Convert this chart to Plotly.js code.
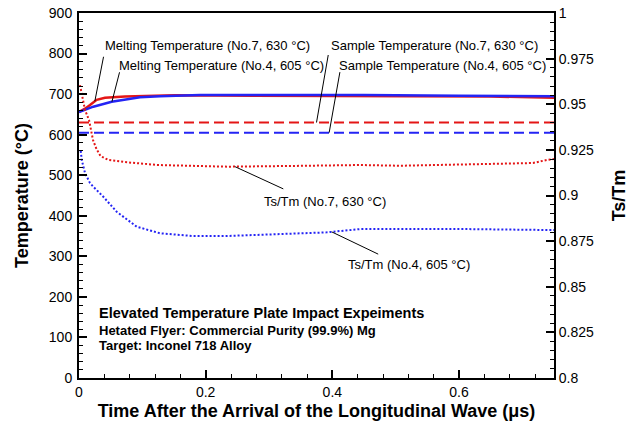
<!DOCTYPE html>
<html>
<head>
<meta charset="utf-8">
<script src="https://cdn.plot.ly/plotly-3.0.1.min.js"></script>
<style>
  html, body { margin: 0; padding: 0; background: #fff; }
  #chart { width: 635px; height: 425px; }
</style>
</head>
<body>
<div id="chart"></div>
<script>
// Time after the arrival of the longitudinal wave (µs) and temperatures (°C)
const tMeltNo7 = [0, 0.0095, 0.0174, 0.0279, 0.041, 0.0726, 0.1516, 0.3, 0.5, 0.65, 0.75];
const meltNo7  = [656, 664, 673, 686, 691, 694, 697, 696, 696, 694, 691];

const tMeltNo4 = [0, 0.0095, 0.0226, 0.0516, 0.0963, 0.128, 0.191, 0.3, 0.45, 0.6, 0.75];
const meltNo4  = [656, 662, 669, 681, 692, 695, 698, 698, 698, 696, 695];

const tSample   = [0, 0.75];
const sampleNo7 = [630, 630];
const sampleNo4 = [605, 605];

// Ts/Tm ratio histories (right axis)
const tRatioNo7 = [0.0016, 0.0095, 0.0158, 0.0221, 0.0276, 0.034, 0.0463, 0.0726, 0.1247,
                   0.2337, 0.3379, 0.4437, 0.5068, 0.6647, 0.7168, 0.7389, 0.75];
const ratioNo7  = [0.9605, 0.9468, 0.9414, 0.9304, 0.9255, 0.9216, 0.9195, 0.9183, 0.9167,
                   0.9158, 0.9162, 0.9167, 0.9163, 0.9173, 0.9178, 0.9195, 0.9200];

const tRatioNo4 = [0.0027, 0.0043, 0.0095, 0.0174, 0.0226, 0.0384, 0.0595, 0.0911, 0.1279,
                   0.1805, 0.2332, 0.2858, 0.3379, 0.3911, 0.4437, 0.5068, 0.6122, 0.7385, 0.75];
const ratioNo4  = [0.9245, 0.9195, 0.9123, 0.9068, 0.9048, 0.8993, 0.8911, 0.8829, 0.8793,
                   0.8778, 0.8778, 0.8784, 0.8793, 0.8798, 0.8816, 0.8816, 0.8816, 0.8811, 0.8811];

const RED = 'rgb(228,22,22)';
const BLUE = 'rgb(36,36,244)';
const FONT = 'Liberation Sans, Arial, Helvetica, sans-serif';

function interp(xs, ys, t) {
  for (let i = 1; i < xs.length; i++) {
    if (t <= xs[i]) {
      const f = (t - xs[i - 1]) / (xs[i] - xs[i - 1]);
      return ys[i - 1] + f * (ys[i] - ys[i - 1]);
    }
  }
  return ys[ys.length - 1];
}

const traces = [
  { x: tMeltNo7, y: meltNo7, mode: 'lines', line: { color: RED, width: 2.5 } },
  { x: tMeltNo4, y: meltNo4, mode: 'lines', line: { color: BLUE, width: 2.5 } },
  { x: tSample, y: sampleNo7, mode: 'lines', line: { color: RED, width: 2, dash: '10px,5px' } },
  { x: tSample, y: sampleNo4, mode: 'lines', line: { color: BLUE, width: 2, dash: '10px,5px' } },
  { x: tRatioNo7, y: ratioNo7, yaxis: 'y2', mode: 'lines', line: { color: RED, width: 2, dash: '2px,2px' } },
  { x: tRatioNo4, y: ratioNo4, yaxis: 'y2', mode: 'lines', line: { color: BLUE, width: 2, dash: '2px,2px' } }
];

// Callout labels and their leader lines
function label(text, px, py, size) {
  return { xref: 'paper', yref: 'paper', x: px, y: py, xanchor: 'left', yanchor: 'middle',
           showarrow: false, text: text, font: { family: FONT, size: size || 13, color: '#000' } };
}
function leader(t, v, yref, ax, ay) {
  return { xref: 'x', yref: yref, x: t, y: v, text: '', showarrow: true, arrowhead: 0,
           arrowwidth: 1, arrowcolor: '#000', ax: ax, ay: ay, standoff: 0 };
}

const annotations = [
  label('Melting Temperature (No.7, 630 °C)', 0.0505, 0.9096),
  label('Melting Temperature (No.4, 605 °C)', 0.080, 0.8575),
  label('Sample Temperature (No.7, 630 °C)', 0.5263, 0.9096),
  label('Sample Temperature (No.4, 605 °C)', 0.5425, 0.8575),
  label('Ts/Tm (No.7, 630 °C)', 0.3853, 0.4849),
  label('Ts/Tm (No.4, 605 °C)', 0.5621, 0.3096),
  leader(0.025, interp(tMeltNo7, meltNo7, 0.025), 'y', 9, -46),
  leader(0.052, interp(tMeltNo4, meltNo4, 0.052), 'y', 8, -31),
  leader(0.375, interp(tSample, sampleNo7, 0.375), 'y', 12, -69),
  leader(0.395, interp(tSample, sampleNo4, 0.395), 'y', 11, -62),
  leader(0.246, interp(tRatioNo7, ratioNo7, 0.246), 'y2', 50, 23),
  leader(0.399, interp(tRatioNo4, ratioNo4, 0.399), 'y2', 48, 23),
  label('<b>Elevated Temperature Plate Impact Expeiments</b>', 0.0373, 0.178, 14.5),
  label('<b>Hetated Flyer: Commercial Purity (99.9%) Mg</b>', 0.0373, 0.1315, 13),
  label('<b>Target: Inconel 718 Alloy</b>', 0.0373, 0.0885, 13)
];

const axisCommon = {
  showgrid: false, zeroline: false, showline: true, linecolor: '#000', linewidth: 2,
  ticks: 'inside', ticklen: 8, tickwidth: 2, tickcolor: '#000',
  tickfont: { family: FONT, size: 14, color: '#000' }
};

const layout = {
  width: 635, height: 425,
  margin: { l: 79, r: 81, t: 13, b: 47 },
  paper_bgcolor: '#fff', plot_bgcolor: '#fff',
  showlegend: false,
  font: { family: FONT, color: '#000' },
  xaxis: Object.assign({}, axisCommon, {
    range: [0, 0.75], tick0: 0, dtick: 0.2, mirror: true,
    minor: { dtick: 0.04, ticks: 'inside', ticklen: 4, tickwidth: 1, tickcolor: '#000' },
    title: { text: '<b>Time After the Arrival of the Longitudinal Wave (μs)</b>',
             font: { family: FONT, size: 18 }, standoff: 6 }
  }),
  yaxis: Object.assign({}, axisCommon, {
    range: [0, 900], tick0: 0, dtick: 100, ticklabelstandoff: 2,
    minor: { dtick: 20, ticks: 'inside', ticklen: 4, tickwidth: 1, tickcolor: '#000' },
    title: { text: '<b>Temperature (°C)</b>', font: { family: FONT, size: 18 }, standoff: 16 }
  }),
  yaxis2: Object.assign({}, axisCommon, {
    overlaying: 'y', side: 'right',
    range: [0.8, 1], tick0: 0.8, dtick: 0.025,
    minor: { dtick: 0.005, ticks: 'inside', ticklen: 4, tickwidth: 1, tickcolor: '#000' },
    title: { text: '<b>Ts/Tm</b>', font: { family: FONT, size: 18 }, standoff: 19 }
  }),
  annotations: annotations
};

Plotly.newPlot('chart', traces, layout, { staticPlot: true, displayModeBar: false });
</script>
</body>
</html>
